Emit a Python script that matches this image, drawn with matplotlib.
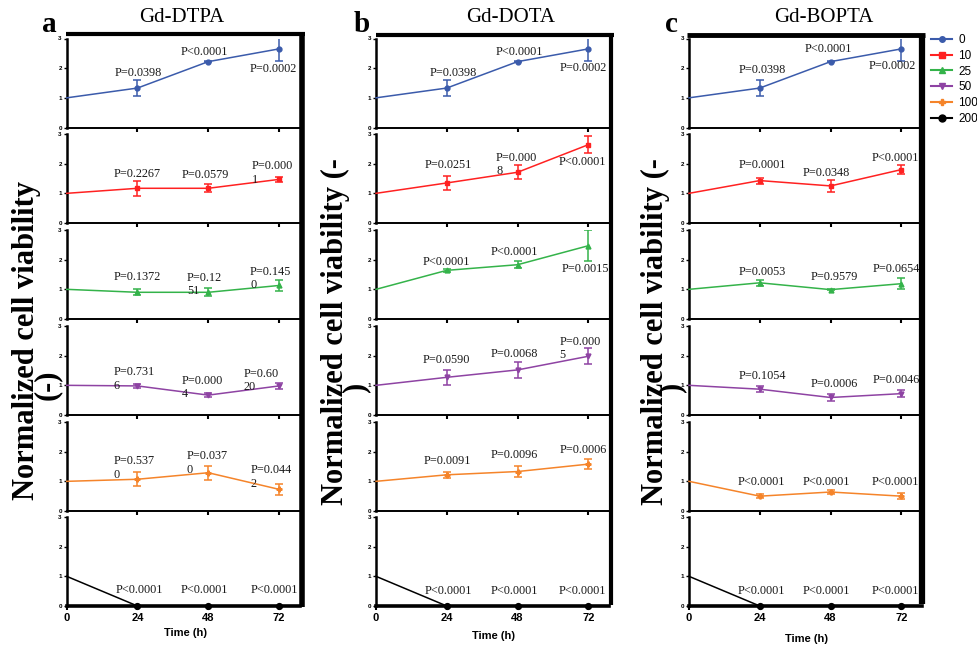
import numpy as np
import matplotlib.pyplot as plt
from matplotlib.lines import Line2D

#
# Cell viability over time for three Gd contrast agents,
# one stacked panel per concentration (uM)
#

times = [0, 24, 48, 72]
doses = ['0', '10', '25', '50', '100', '200']
agents = ['Gd-DTPA', 'Gd-DOTA', 'Gd-BOPTA']
letters = ['a', 'b', 'c']

# mean normalized viability, one row per dose
dtpa_mean = [[1, 1.33, 2.22, 2.65],
             [1, 1.17, 1.17, 1.47],
             [1, 0.90, 0.90, 1.13],
             [1, 0.98, 0.67, 0.98],
             [1, 1.07, 1.29, 0.73],
             [1, 0, 0, 0]]
dtpa_err = [[0, 0.27, 0.02, 0.42],
            [0, 0.25, 0.14, 0.09],
            [0, 0.10, 0.13, 0.17],
            [0, 0.08, 0.06, 0.09],
            [0, 0.24, 0.24, 0.18],
            [0, 0, 0, 0]]

dota_mean = [[1, 1.33, 2.22, 2.65],
             [1, 1.35, 1.71, 2.64],
             [1, 1.64, 1.83, 2.47],
             [1, 1.27, 1.52, 1.98],
             [1, 1.22, 1.33, 1.58],
             [1, 0, 0, 0]]
dota_err = [[0, 0.27, 0.02, 0.42],
            [0, 0.23, 0.23, 0.29],
            [0, 0.05, 0.12, 0.52],
            [0, 0.25, 0.26, 0.27],
            [0, 0.11, 0.19, 0.17],
            [0, 0, 0, 0]]

bopta_mean = [[1, 1.33, 2.22, 2.65],
              [1, 1.43, 1.25, 1.80],
              [1, 1.22, 0.99, 1.19],
              [1, 0.87, 0.59, 0.72],
              [1, 0.50, 0.64, 0.50],
              [1, 0, 0, 0]]
bopta_err = [[0, 0.27, 0.02, 0.42],
             [0, 0.10, 0.19, 0.16],
             [0, 0.10, 0.02, 0.19],
             [0, 0.10, 0.12, 0.12],
             [0, 0.06, 0.07, 0.10],
             [0, 0, 0, 0]]

# p-value annotations at 24, 48, 72 h
dtpa_p = [['P=0.0398', 'P<0.0001', 'P=0.0002'],
          ['P=0.2267', 'P=0.0579', 'P=0.000\n1'],
          ['P=0.1372', 'P=0.12\n51', 'P=0.145\n0'],
          ['P=0.731\n6', 'P=0.000\n4', 'P=0.60\n20'],
          ['P=0.537\n0', 'P=0.037\n0', 'P=0.044\n2'],
          ['P<0.0001', 'P<0.0001', 'P<0.0001']]
dota_p = [['P=0.0398', 'P<0.0001', 'P=0.0002'],
          ['P=0.0251', 'P=0.000\n8', 'P<0.0001'],
          ['P<0.0001', 'P<0.0001', 'P=0.0015'],
          ['P=0.0590', 'P=0.0068', 'P=0.000\n5'],
          ['P=0.0091', 'P=0.0096', 'P=0.0006'],
          ['P<0.0001', 'P<0.0001', 'P<0.0001']]
bopta_p = [['P=0.0398', 'P<0.0001', 'P=0.0002'],
           ['P=0.0001', 'P=0.0348', 'P<0.0001'],
           ['P=0.0053', 'P=0.9579', 'P=0.0654'],
           ['P=0.1054', 'P=0.0006', 'P=0.0046'],
           ['P<0.0001', 'P<0.0001', 'P<0.0001'],
           ['P<0.0001', 'P<0.0001', 'P<0.0001']]

# where the p-value text sits (data coords of the text centre)
dtpa_px = [[24.3, 46.7, 70.0], [24.0, 47.0, 69.7], [24.1, 46.7, 69.2],
           [22.9, 46.0, 65.8], [23.0, 47.7, 69.4], [24.6, 46.6, 70.3]]
dtpa_py = [[1.85, 2.54, 1.97], [1.66, 1.63, 1.68], [1.43, 1.17, 1.36],
           [1.21, 0.92, 1.16], [1.45, 1.62, 1.15], [0.54, 0.54, 0.54]]
dota_px = [[26.3, 48.6, 70.2], [24.6, 47.7, 70.1], [23.9, 46.8, 70.9],
           [24.0, 46.8, 69.2], [24.1, 46.8, 70.3], [24.6, 46.8, 70.1]]
dota_py = [[1.85, 2.56, 1.99], [1.95, 1.97, 2.05], [1.93, 2.25, 1.69],
           [1.84, 2.04, 2.25], [1.67, 1.89, 2.06], [0.50, 0.50, 0.50]]
bopta_px = [[24.9, 47.3, 69.0], [24.8, 46.4, 69.9], [24.9, 49.2, 70.2],
            [24.9, 49.2, 70.2], [24.4, 46.5, 70.0], [24.6, 46.5, 70.0]]
bopta_py = [[1.94, 2.63, 2.07], [1.95, 1.69, 2.18], [1.60, 1.41, 1.67],
            [1.31, 1.04, 1.18], [0.98, 0.98, 0.98], [0.50, 0.50, 0.50]]

colors = ['#3b5bab', '#ff2121', '#34b34a', '#8e43a3', '#f5842a', '#000000']
markers = ['o', 's', '^', 'v', 'P', 'o']

all_mean = [dtpa_mean, dota_mean, bopta_mean]
all_err = [dtpa_err, dota_err, bopta_err]
all_p = [dtpa_p, dota_p, bopta_p]
all_px = [dtpa_px, dota_px, bopta_px]
all_py = [dtpa_py, dota_py, bopta_py]

W, H = 978, 648
serif = 'Liberation Serif'
sans = 'Liberation Sans'

fig = plt.figure(figsize=(W / 100, H / 100), dpi=100)

col_left = [66.7, 376, 689]
ax_w = 233
ax_h = 89
row_bottom = [127.5, 223, 319, 415, 511, 606]


def px_box(left, bottom, w, h):
    return [left / W, 1 - bottom / H, w / W, h / H]


for c in range(3):
    for r in range(6):
        ax = fig.add_axes(px_box(col_left[c], row_bottom[r], ax_w, ax_h))
        mean = all_mean[c][r]
        err = all_err[c][r]
        ax.plot(times, mean, color=colors[r], lw=1.1, marker=markers[r],
                ms=3.5 if r < 5 else 4.2, markevery=[1, 2, 3], clip_on=False,
                zorder=3)
        if r < 5:
            ax.errorbar(times[1:], mean[1:], yerr=err[1:], fmt='none',
                        ecolor=colors[r], elinewidth=1.1, capsize=3,
                        capthick=1.1, zorder=3)
        for k in range(3):
            ax.text(all_px[c][r][k], all_py[c][r][k], all_p[c][r][k],
                    ha='center', va='center', multialignment='left',
                    fontsize=8.8, family=serif, color='#1a1a1a',
                    linespacing=1.15, zorder=4)

        ax.set_xlim(0, 79)
        ax.set_ylim(0, 3)
        ax.spines['top'].set_visible(False)
        ax.spines['right'].set_visible(False)
        ax.spines['left'].set_linewidth(1.8)
        ax.spines['bottom'].set_linewidth(2.6 if r == 5 else 1.4)
        ax.set_yticks([0, 1, 2, 3])
        ax.set_yticklabels(['0', '1', '2', '3'], fontsize=4.5,
                           fontweight='bold', family=sans)
        ax.tick_params(axis='y', length=2.5, width=1, pad=1)
        if r < 5:
            ax.set_xticks([24, 48, 72])
            ax.set_xticklabels([])
            ax.tick_params(axis='x', length=3, width=1.5)
        else:
            ax.set_xticks(times)
            ax.set_xticklabels([str(t) for t in times], fontsize=8,
                               fontweight='bold', family=sans)
            ax.tick_params(axis='x', length=3, width=1.5, pad=2)

# thick frame lines drawn over each column
frames = [(66, 305, 34, 302, 607, 3.0, 4.0),
          (376, 614, 35, 611, 605, 3.0, 3.0),
          (687, 925, 34.5, 922, 604, 3.5, 4.5)]
for x0, x1, ytop, xr, ybot, lw_top, lw_right in frames:
    fig.add_artist(Line2D([x0 / W, x1 / W], [1 - ytop / H, 1 - ytop / H],
                          color='black', lw=lw_top, solid_capstyle='butt'))
    fig.add_artist(Line2D([xr / W, xr / W], [1 - ytop / H, 1 - ybot / H],
                          color='black', lw=lw_right, solid_capstyle='butt'))

# titles and panel letters
title_x = [182, 511, 824]
letter_x = [49, 362, 671]
for c in range(3):
    fig.text(title_x[c] / W, 1 - 18 / H, agents[c], ha='center', va='center',
             fontsize=15, family=serif)
    fig.text(letter_x[c] / W, 1 - 24 / H, letters[c], ha='center',
             va='center', fontsize=21, fontweight='bold', family=serif)

# y labels (wrapped as in the original)
ylab = dict(rotation=90, ha='center', va='center', fontsize=22,
            fontweight='bold', family=serif)
fig.text(27 / W, 1 - 340 / H, 'Normalized cell viability', **ylab)
fig.text(47 / W, 1 - 385 / H, '(-)', **ylab)
for xl, xr in [(335, 356), (655, 672)]:
    fig.text(xl / W, 1 - 332 / H, 'Normalized cell viability (-', **ylab)
    fig.text(xr / W, 1 - 387 / H, ')', **ylab)

# x labels
for xc, yc in [(186, 633), (494, 636), (807, 639)]:
    fig.text(xc / W, 1 - yc / H, 'Time (h)', ha='center', va='center',
             fontsize=8, fontweight='bold', family=sans)

# legend
handles = [Line2D([], [], color=colors[i], marker=markers[i], lw=1.5,
                  ms=4 if i < 5 else 5) for i in range(6)]
fig.legend(handles, doses, loc='upper left',
           bbox_to_anchor=(931 / W, 1 - 34 / H), frameon=False,
           prop={'family': sans, 'size': 8.5}, handlelength=1.8,
           handletextpad=0.5, labelspacing=0.32, borderpad=0,
           borderaxespad=0)

fig.savefig('out.png', dpi=100)
